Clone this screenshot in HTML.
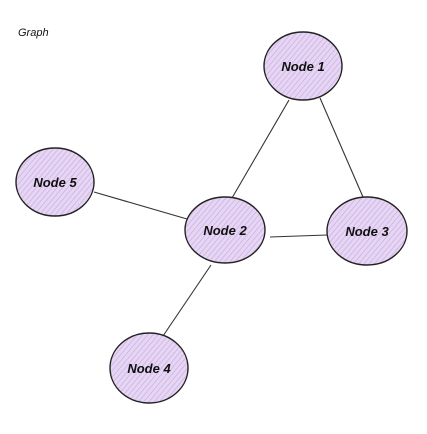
<!DOCTYPE html>
<html><head><meta charset="utf-8"><style>
html,body{margin:0;padding:0;background:#fff;width:427px;height:434px;overflow:hidden}
svg{display:block}
text{font-family:"Comic Sans MS","Liberation Sans",sans-serif;fill:#111}
</style></head><body>
<svg width="427" height="434" viewBox="0 0 427 434" xmlns="http://www.w3.org/2000/svg">
<defs>
<pattern id="h" width="4" height="4" patternUnits="userSpaceOnUse" patternTransform="rotate(40)">
<rect width="4" height="4" fill="#e6d6f3"/>
<line x1="0" y1="0" x2="0" y2="4" stroke="#c8aae3" stroke-width="1.3"/>
</pattern>
</defs>
<text x="18" y="36" font-size="11" font-style="italic">Graph</text>
<g stroke="#333" stroke-width="1.1" fill="none">
<line x1="289" y1="100" x2="232" y2="198"/>
<line x1="320" y1="98" x2="363" y2="197"/>
<line x1="94" y1="192" x2="187" y2="219"/>
<line x1="270" y1="237" x2="327" y2="235"/>
<line x1="211" y1="265" x2="163" y2="336"/>
</g>
<g fill="url(#h)" stroke="#222" stroke-width="1.4">
<ellipse cx="303" cy="66" rx="39" ry="34"/>
<ellipse cx="55" cy="182" rx="39" ry="34"/>
<ellipse cx="225" cy="230" rx="40" ry="33"/>
<ellipse cx="367" cy="231" rx="40" ry="34"/>
<ellipse cx="149" cy="368" rx="39" ry="35"/>
</g>
<g font-size="13" text-anchor="middle" font-style="italic" font-weight="bold">
<text x="303" y="71">Node 1</text>
<text x="55" y="187">Node 5</text>
<text x="225" y="235">Node 2</text>
<text x="367" y="236">Node 3</text>
<text x="149" y="373">Node 4</text>
</g>
</svg>
</body></html>
